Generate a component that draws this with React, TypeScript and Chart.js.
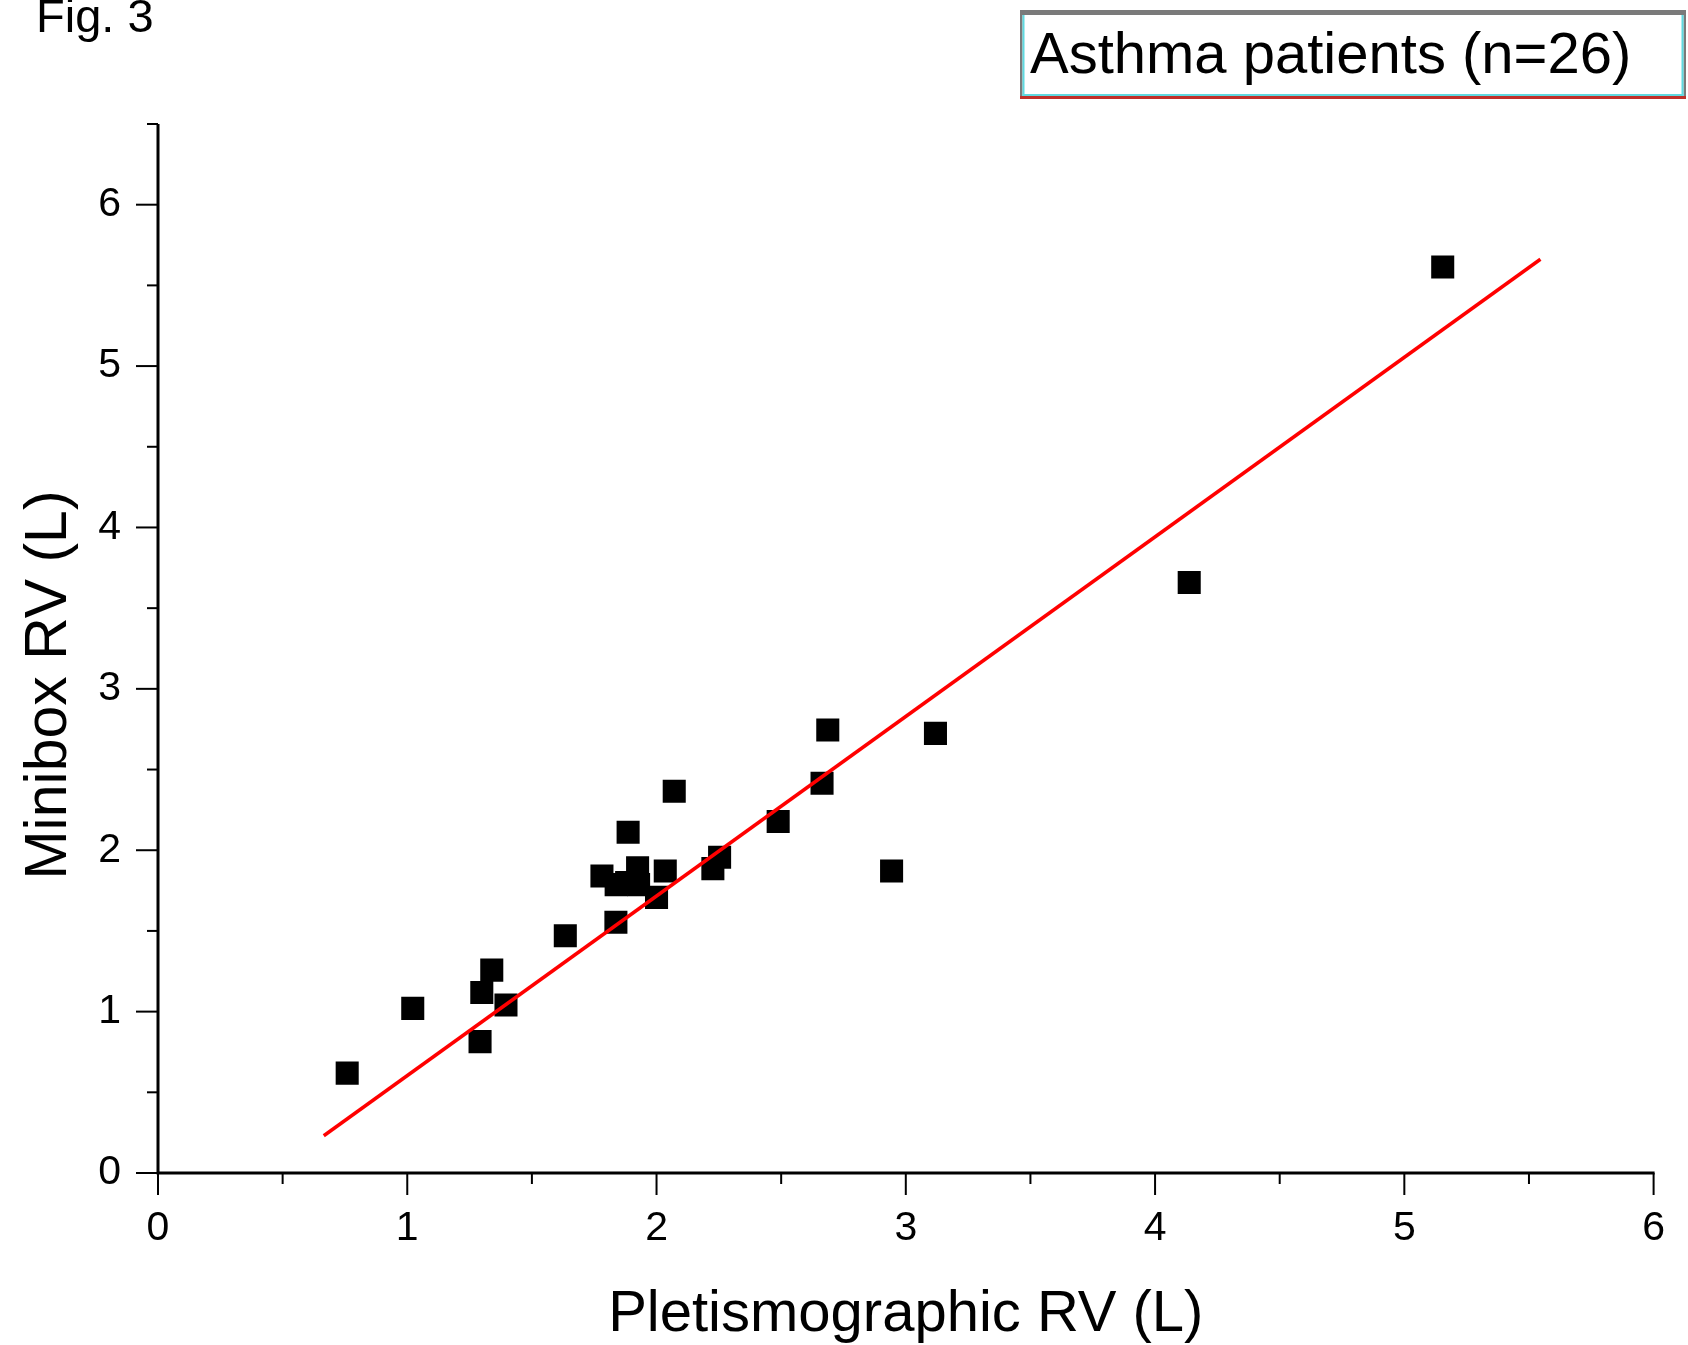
import React, { useEffect, useRef } from "react";
import { Chart, registerables } from "chart.js";

Chart.register(...registerables);

// Data
const plethRV = [0.759, 1.022, 1.292, 1.299, 1.339, 1.396, 1.634, 1.781, 1.838, 1.88, 1.924, 1.928, 1.837, 2.035, 2.0, 1.886, 2.071, 2.226, 2.253, 2.488, 2.664, 2.687, 2.943, 3.119, 4.137, 5.154];
const miniboxRV = [0.619, 1.02, 0.814, 1.119, 1.257, 1.041, 1.47, 1.84, 1.787, 1.8, 1.892, 1.787, 1.554, 1.871, 1.708, 2.112, 2.365, 1.886, 1.957, 2.178, 2.415, 2.745, 1.871, 2.724, 3.659, 5.614];
const fitX = [0.665, 5.546];
const fitY = [0.231, 5.662];
const xTickLabels = [0, 1, 2, 3, 4, 5, 6];
const yTickLabels = [0, 1, 2, 3, 4, 5, 6];

const xTitle = "Pletismographic RV (L)";
const yTitle = "Minibox RV (L)";
const figLabel = "Fig. 3";
const boxLabel = "Asthma patients (n=26)";

const FONT = "'Liberation Sans', Arial, sans-serif";

const decorPlugin = {
  id: "decor",
  afterDraw(chart: any) {
    const ctx = chart.ctx;
    const xs = chart.scales.x;
    const ys = chart.scales.y;
    const area = chart.chartArea;
    ctx.save();
    ctx.strokeStyle = "#000";
    ctx.lineCap = "butt";
    // ticks
    ctx.lineWidth = 2;
    ys.ticks.forEach((t: any) => {
      const py = ys.getPixelForValue(t.value);
      const major = yTickLabels.includes(t.value);
      const len = major ? 22 : 11;
      ctx.beginPath();
      ctx.moveTo(area.left - len, py);
      ctx.lineTo(area.left, py);
      ctx.stroke();
    });
    xs.ticks.forEach((t: any) => {
      const px = xs.getPixelForValue(t.value);
      const major = xTickLabels.includes(t.value);
      const len = major ? 22 : 11;
      ctx.beginPath();
      ctx.moveTo(px, area.bottom);
      ctx.lineTo(px, area.bottom + len);
      ctx.stroke();
    });
    // axis lines
    ctx.lineWidth = 3;
    ctx.beginPath();
    ctx.moveTo(area.left, area.top);
    ctx.lineTo(area.left, area.bottom + 1.5);
    ctx.moveTo(area.left - 1.5, area.bottom);
    ctx.lineTo(area.right + 1, area.bottom);
    ctx.stroke();

    // axis titles
    ctx.fillStyle = "#000";
    ctx.font = `58px ${FONT}`;
    ctx.textAlign = "center";
    ctx.textBaseline = "alphabetic";
    ctx.fillText(xTitle, (area.left + area.right) / 2, 1331);
    ctx.save();
    ctx.translate(66, 685);
    ctx.rotate(-Math.PI / 2);
    ctx.font = `59px ${FONT}`;
    ctx.fillText(yTitle, 0, 0);
    ctx.restore();

    // Fig label
    ctx.textAlign = "left";
    ctx.font = `47px ${FONT}`;
    ctx.fillText(figLabel, 36, 32);

    // label box
    const bx = 1020, by = 10, bw = 666, bh = 89;
    ctx.fillStyle = "#fff";
    ctx.fillRect(bx, by, bw, bh);
    ctx.fillStyle = "#7a7a7a";
    ctx.fillRect(bx, by, bw, 5);
    ctx.fillRect(bx, by, 2.5, bh);
    ctx.fillRect(bx + bw - 2.5, by, 2.5, bh);
    ctx.fillStyle = "#5fd9e0";
    ctx.fillRect(bx + 2.5, by + 5, 2, bh - 5);
    ctx.fillRect(bx + bw - 4.5, by + 5, 2, bh - 5);
    ctx.fillRect(bx + 2.5, by + bh - 5, bw - 5, 2);
    ctx.fillStyle = "#c0302a";
    ctx.fillRect(bx, by + bh - 3, bw, 3);
    ctx.fillStyle = "#000";
    ctx.font = `58px ${FONT}`;
    ctx.fillText(boxLabel, 1030, 73);
    ctx.restore();
  },
};

export default function App() {
  const ref = useRef<HTMLCanvasElement | null>(null);
  useEffect(() => {
    if (!ref.current) return;
    const chart = new Chart(ref.current, {
      type: "scatter",
      data: {
        datasets: [
          {
            type: "line",
            label: "fit",
            data: fitX.map((x, i) => ({ x, y: fitY[i] })),
            borderColor: "#ff0000",
            borderWidth: 3.5,
            pointRadius: 0,
            showLine: true,
            fill: false,
          } as any,
          {
            label: "Asthma patients",
            data: plethRV.map((x, i) => ({ x, y: miniboxRV[i] })),
            pointStyle: "rect",
            pointRadius: 16.3,
            pointHoverRadius: 16.3,
            backgroundColor: "#000",
            borderColor: "#000",
            borderWidth: 0,
          },
        ],
      },
      options: {
        responsive: false,
        devicePixelRatio: 1,
        animation: false,
        layout: { padding: { left: 0, right: 33, top: 124, bottom: 0 } },
        plugins: {
          legend: { display: false },
          tooltip: { enabled: false },
          title: { display: false },
        },
        scales: {
          x: {
            type: "linear",
            min: 0,
            max: 6,
            grid: { display: false },
            border: { display: false },
            ticks: {
              stepSize: 0.5,
              autoSkip: false,
              maxRotation: 0,
              padding: 23,
              color: "#000",
              font: { family: FONT, size: 41 },
              callback: (v: any) => (xTickLabels.includes(Number(v)) ? String(v) : ""),
            },
            afterFit: (s: any) => {
              s.height = 172;
            },
          },
          y: {
            type: "linear",
            min: 0,
            max: 6.5,
            grid: { display: false },
            border: { display: false },
            ticks: {
              stepSize: 0.5,
              autoSkip: false,
              padding: 29,
              color: "#000",
              font: { family: FONT, size: 41 },
              callback: (v: any) => (yTickLabels.includes(Number(v)) ? String(v) : ""),
            },
            afterFit: (s: any) => {
              s.width = 158;
            },
          },
        },
      },
      plugins: [decorPlugin],
    });
    return () => chart.destroy();
  }, []);
  return (
    <div style={{ position: "fixed", left: 0, top: 0, width: 1688, height: 1345, background: "#fff" }}>
      <canvas ref={ref} width={1688} height={1345} style={{ display: "block" }} />
    </div>
  );
}
